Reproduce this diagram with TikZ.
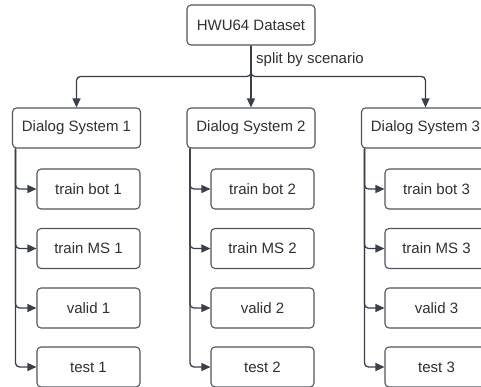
\documentclass[tikz,border=0pt]{standalone}
\usepackage{fontspec}
\setmainfont{Liberation Sans}
\usetikzlibrary{arrows.meta}
\definecolor{edgegray}{RGB}{58,64,72}
\definecolor{boxgray}{RGB}{80,86,94}
\definecolor{txtgray}{RGB}{45,48,52}

\begin{document}
\begin{tikzpicture}[
  x=1pt, y=-1pt,
  % Node styles
  top/.style={draw=boxgray, line width=1.1pt, rounded corners=4pt, minimum width=128pt,
              minimum height=40pt, text=txtgray, font=\fontsize{15}{18}\selectfont},
  sys/.style={draw=boxgray, line width=1.1pt, rounded corners=4pt, minimum width=128pt,
              minimum height=40pt, text=txtgray, font=\fontsize{15}{18}\selectfont},
  part/.style={draw=boxgray, line width=1.1pt, rounded corners=4pt, minimum width=103pt,
               minimum height=40pt, text=txtgray, font=\fontsize{15}{18}\selectfont},
  % Arrow styles
  arr/.style={-{Stealth[length=9pt, width=8pt, inset=0pt]}, line width=1.3pt, edgegray,
              rounded corners=4pt},
  % Label style
  lbl/.style={text=txtgray, font=\fontsize{15}{18}\selectfont, inner sep=0pt},
]
\useasboundingbox (0,0) rectangle (481,387);
\clip (0,0) rectangle (481,387);

% === Root ===
\node[top] (HWU) at (251, 25) {HWU64 Dataset};
\coordinate (split) at (251, 76.5);

% === Dialog systems ===
\node[sys] (DS1) at (76.5, 128) {Dialog System 1};
\node[sys] (DS2) at (251, 128) {Dialog System 2};
\node[sys] (DS3) at (425.5, 128) {Dialog System 3};

% === Splits per system ===
\node[part] (TB1) at (88.5, 189) {train bot 1};
\node[part] (TM1) at (88.5, 248.5) {train MS 1};
\node[part] (VA1) at (88.5, 308) {valid 1};
\node[part] (TE1) at (88.5, 367) {test 1};

\node[part] (TB2) at (262.5, 189) {train bot 2};
\node[part] (TM2) at (262.5, 248.5) {train MS 2};
\node[part] (VA2) at (262.5, 308) {valid 2};
\node[part] (TE2) at (262.5, 367) {test 2};

\node[part] (TB3) at (436.5, 189) {train bot 3};
\node[part] (TM3) at (436.5, 248.5) {train MS 3};
\node[part] (VA3) at (436.5, 308) {valid 3};
\node[part] (TE3) at (436.5, 367) {test 3};

% === Root -> systems ===
\draw[arr] (HWU.south) -- (split) -| (DS1.north);
\draw[arr] (HWU.south) -- (DS2.north);
\draw[arr] (HWU.south) -- (split) -| (DS3.north);
\node[lbl, anchor=west] (SPL) at (256, 60) {split by scenario};

% === Systems -> splits ===
\draw[arr] ([xshift=3.5pt]DS1.south west) |- (TB1.west);
\draw[arr] ([xshift=3.5pt]DS1.south west) |- (TM1.west);
\draw[arr] ([xshift=3.5pt]DS1.south west) |- (VA1.west);
\draw[arr] ([xshift=3.5pt]DS1.south west) |- (TE1.west);

\draw[arr] ([xshift=3.5pt]DS2.south west) |- (TB2.west);
\draw[arr] ([xshift=3.5pt]DS2.south west) |- (TM2.west);
\draw[arr] ([xshift=3.5pt]DS2.south west) |- (VA2.west);
\draw[arr] ([xshift=3.5pt]DS2.south west) |- (TE2.west);

\draw[arr] ([xshift=3.5pt]DS3.south west) |- (TB3.west);
\draw[arr] ([xshift=3.5pt]DS3.south west) |- (TM3.west);
\draw[arr] ([xshift=3.5pt]DS3.south west) |- (VA3.west);
\draw[arr] ([xshift=3.5pt]DS3.south west) |- (TE3.west);

\end{tikzpicture}
\end{document}
